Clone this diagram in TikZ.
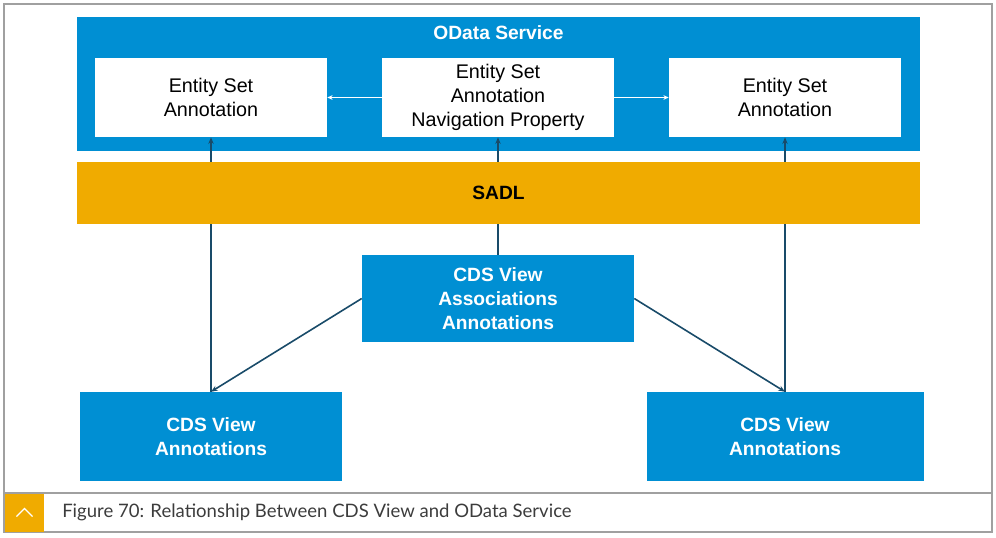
\documentclass[tikz,border=0pt]{standalone}
\usepackage{fontspec}
\setmainfont{Liberation Sans}
\newfontfamily\capfont{Lato}
\usetikzlibrary{arrows.meta}
\definecolor{sapblue}{RGB}{0,143,211}
\definecolor{sapgold}{RGB}{240,171,0}
\definecolor{linkblue}{RGB}{25,75,105}
\definecolor{framegray}{RGB}{160,160,160}
\definecolor{captext}{RGB}{60,60,60}
\pgfdeclarelayer{front}
\pgfsetlayers{main,front}
\begin{document}
\begin{tikzpicture}[x=0.75pt,y=-0.75pt,
    txt/.style={font=\fontsize{14.8}{18}\selectfont,align=center,inner sep=0pt},
    entity/.style={txt,fill=white,minimum width={232*0.75pt},minimum height={79*0.75pt}},
    cds/.style={txt,fill=sapblue,text=white,font=\fontsize{14.4}{18}\selectfont\bfseries},
    link/.style={linkblue,line width=1.2pt,-{Stealth[length=5pt,width=4pt]}},
    navlink/.style={white,line width=0.9pt,-{Stealth[length=4pt,width=3.5pt]}}]
    \useasboundingbox (0,0) rectangle (996,538);
    % frame and caption
    \draw[framegray,line width=1.3pt] (4,4) rectangle (992,532);
    \draw[framegray,line width=1.1pt] (4,493) -- (992,493);
    \node[fill=sapgold,minimum width={39*0.75pt},minimum height={38*0.75pt},inner sep=0pt] (capicon) at (24.5,512.5) {};
    \draw[white,line width=1pt] ([shift={(-8,4)}]capicon.center) -- ([shift={(0,-4)}]capicon.center) -- ([shift={(8,4)}]capicon.center);
    \node[anchor=west,inner sep=0pt,text=captext,font=\capfont\fontsize{13.9}{16}\selectfont] (caption) at (62,512) {Figure 70: Relationship Between CDS View and OData Service};
    % OData service
    \node[fill=sapblue,minimum width={843*0.75pt},minimum height={134*0.75pt},inner sep=0pt] (odata) at (498.5,84) {};
    \node[txt,text=white,font=\fontsize{14.4}{18}\selectfont\bfseries] (odatatitle) at (498.5,33) {OData Service};
    \node[entity] (esl) at (211,97.5) {Entity Set\\Annotation};
    \node[entity] (esc) at (498,97.5) {Entity Set\\Annotation\\Navigation Property};
    \node[entity] (esr) at (785,97.5) {Entity Set\\Annotation};
    \draw[navlink] (esc.west) -- (esl.east);
    \draw[navlink] (esc.east) -- (esr.west);
    % CDS views
    \node[cds,minimum width={272*0.75pt},minimum height={87*0.75pt}] (cdsa) at (498,298.5) {CDS View\\Associations\\Annotations};
    \node[cds,minimum width={262*0.75pt},minimum height={89*0.75pt}] (cdsl) at (211,436.5) {CDS View\\Annotations};
    \node[cds,minimum width={277*0.75pt},minimum height={89*0.75pt}] (cdsr) at (785,436.5) {CDS View\\Annotations};
    \draw[link] (cdsl.north) -- (esl.south);
    \draw[link] (cdsa.north) -- (esc.south);
    \draw[link] (cdsr.north) -- (esr.south);
    \draw[link] (cdsa.west) -- (cdsl.north);
    \draw[link] (cdsa.east) -- (cdsr.north);
    % SADL
    \begin{pgfonlayer}{front}
        \node[fill=sapgold,minimum width={843*0.75pt},minimum height={62*0.75pt},inner sep=0pt,font=\fontsize{14.4}{18}\selectfont\bfseries] (sadl) at (498.5,193) {SADL};
    \end{pgfonlayer}
\end{tikzpicture}
\end{document}
